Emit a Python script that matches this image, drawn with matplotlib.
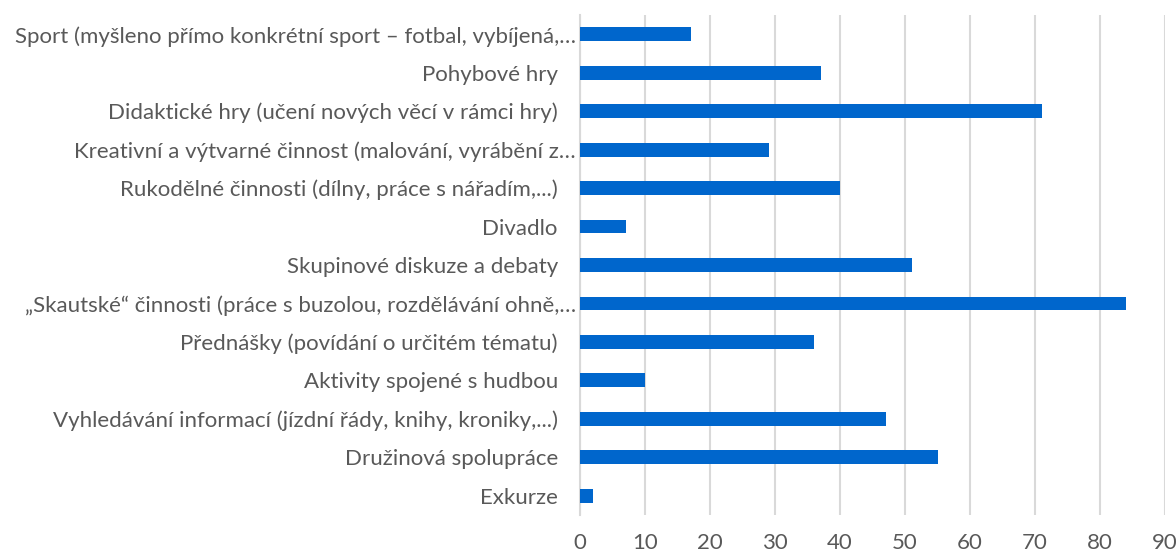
import numpy as np
import matplotlib.pyplot as plt
import matplotlib.transforms as mtransforms

# Data (top to bottom as shown)
categories = [
    "Sport (myšleno přímo konkrétní sport – fotbal, vybíjená,…",
    "Pohybové hry",
    "Didaktické hry (učení nových věcí v rámci hry)",
    "Kreativní a výtvarné činnost (malování, vyrábění z…",
    "Rukodělné činnosti (dílny, práce s nářadím,...)",
    "Divadlo",
    "Skupinové diskuze a debaty",
    "„Skautské“ činnosti (práce s buzolou, rozdělávání ohně,…",
    "Přednášky (povídání o určitém tématu)",
    "Aktivity spojené s hudbou",
    "Vyhledávání informací (jízdní řády, knihy, kroniky,...)",
    "Družinová spolupráce",
    "Exkurze",
]
values = [17, 37, 71, 29, 40, 7, 51, 84, 36, 10, 47, 55, 2]
xticks = [0, 10, 20, 30, 40, 50, 60, 70, 80, 90]

bar_color = '#0066CC'
text_color = '#595959'
grid_color = '#D9D9D9'

plt.rcParams['font.family'] = ['Lato', 'DejaVu Sans']

fig = plt.figure(figsize=(11.76, 5.55), dpi=100)
ax = fig.add_axes([580/1176, 1 - 515/555, 585/1176, 500/555])

y = np.arange(len(categories))
ax.barh(y, values, height=0.36, color=bar_color, zorder=3)

ax.set_xlim(0, 90)
ax.set_ylim(len(categories) - 0.5, -0.5)
ax.set_xticks(xticks)
ax.set_yticks(y)
ax.set_yticklabels(categories)

ax.grid(axis='x', color=grid_color, linewidth=1.5, zorder=0)
for side in ['top', 'right', 'bottom']:
    ax.spines[side].set_visible(False)
ax.spines['left'].set_color(grid_color)
ax.spines['left'].set_linewidth(1.5)

ax.tick_params(axis='both', length=0, labelcolor=text_color, labelsize=16)
ax.tick_params(axis='y', pad=16)
ax.tick_params(axis='x', pad=13)

# truncated labels sit closer to the axis
for lab in ax.get_yticklabels():
    if lab.get_text().endswith('…'):
        lab.set_transform(lab.get_transform() + mtransforms.ScaledTranslation(18/100, 0, fig.dpi_scale_trans))

fig.savefig('out.png', dpi=100)
